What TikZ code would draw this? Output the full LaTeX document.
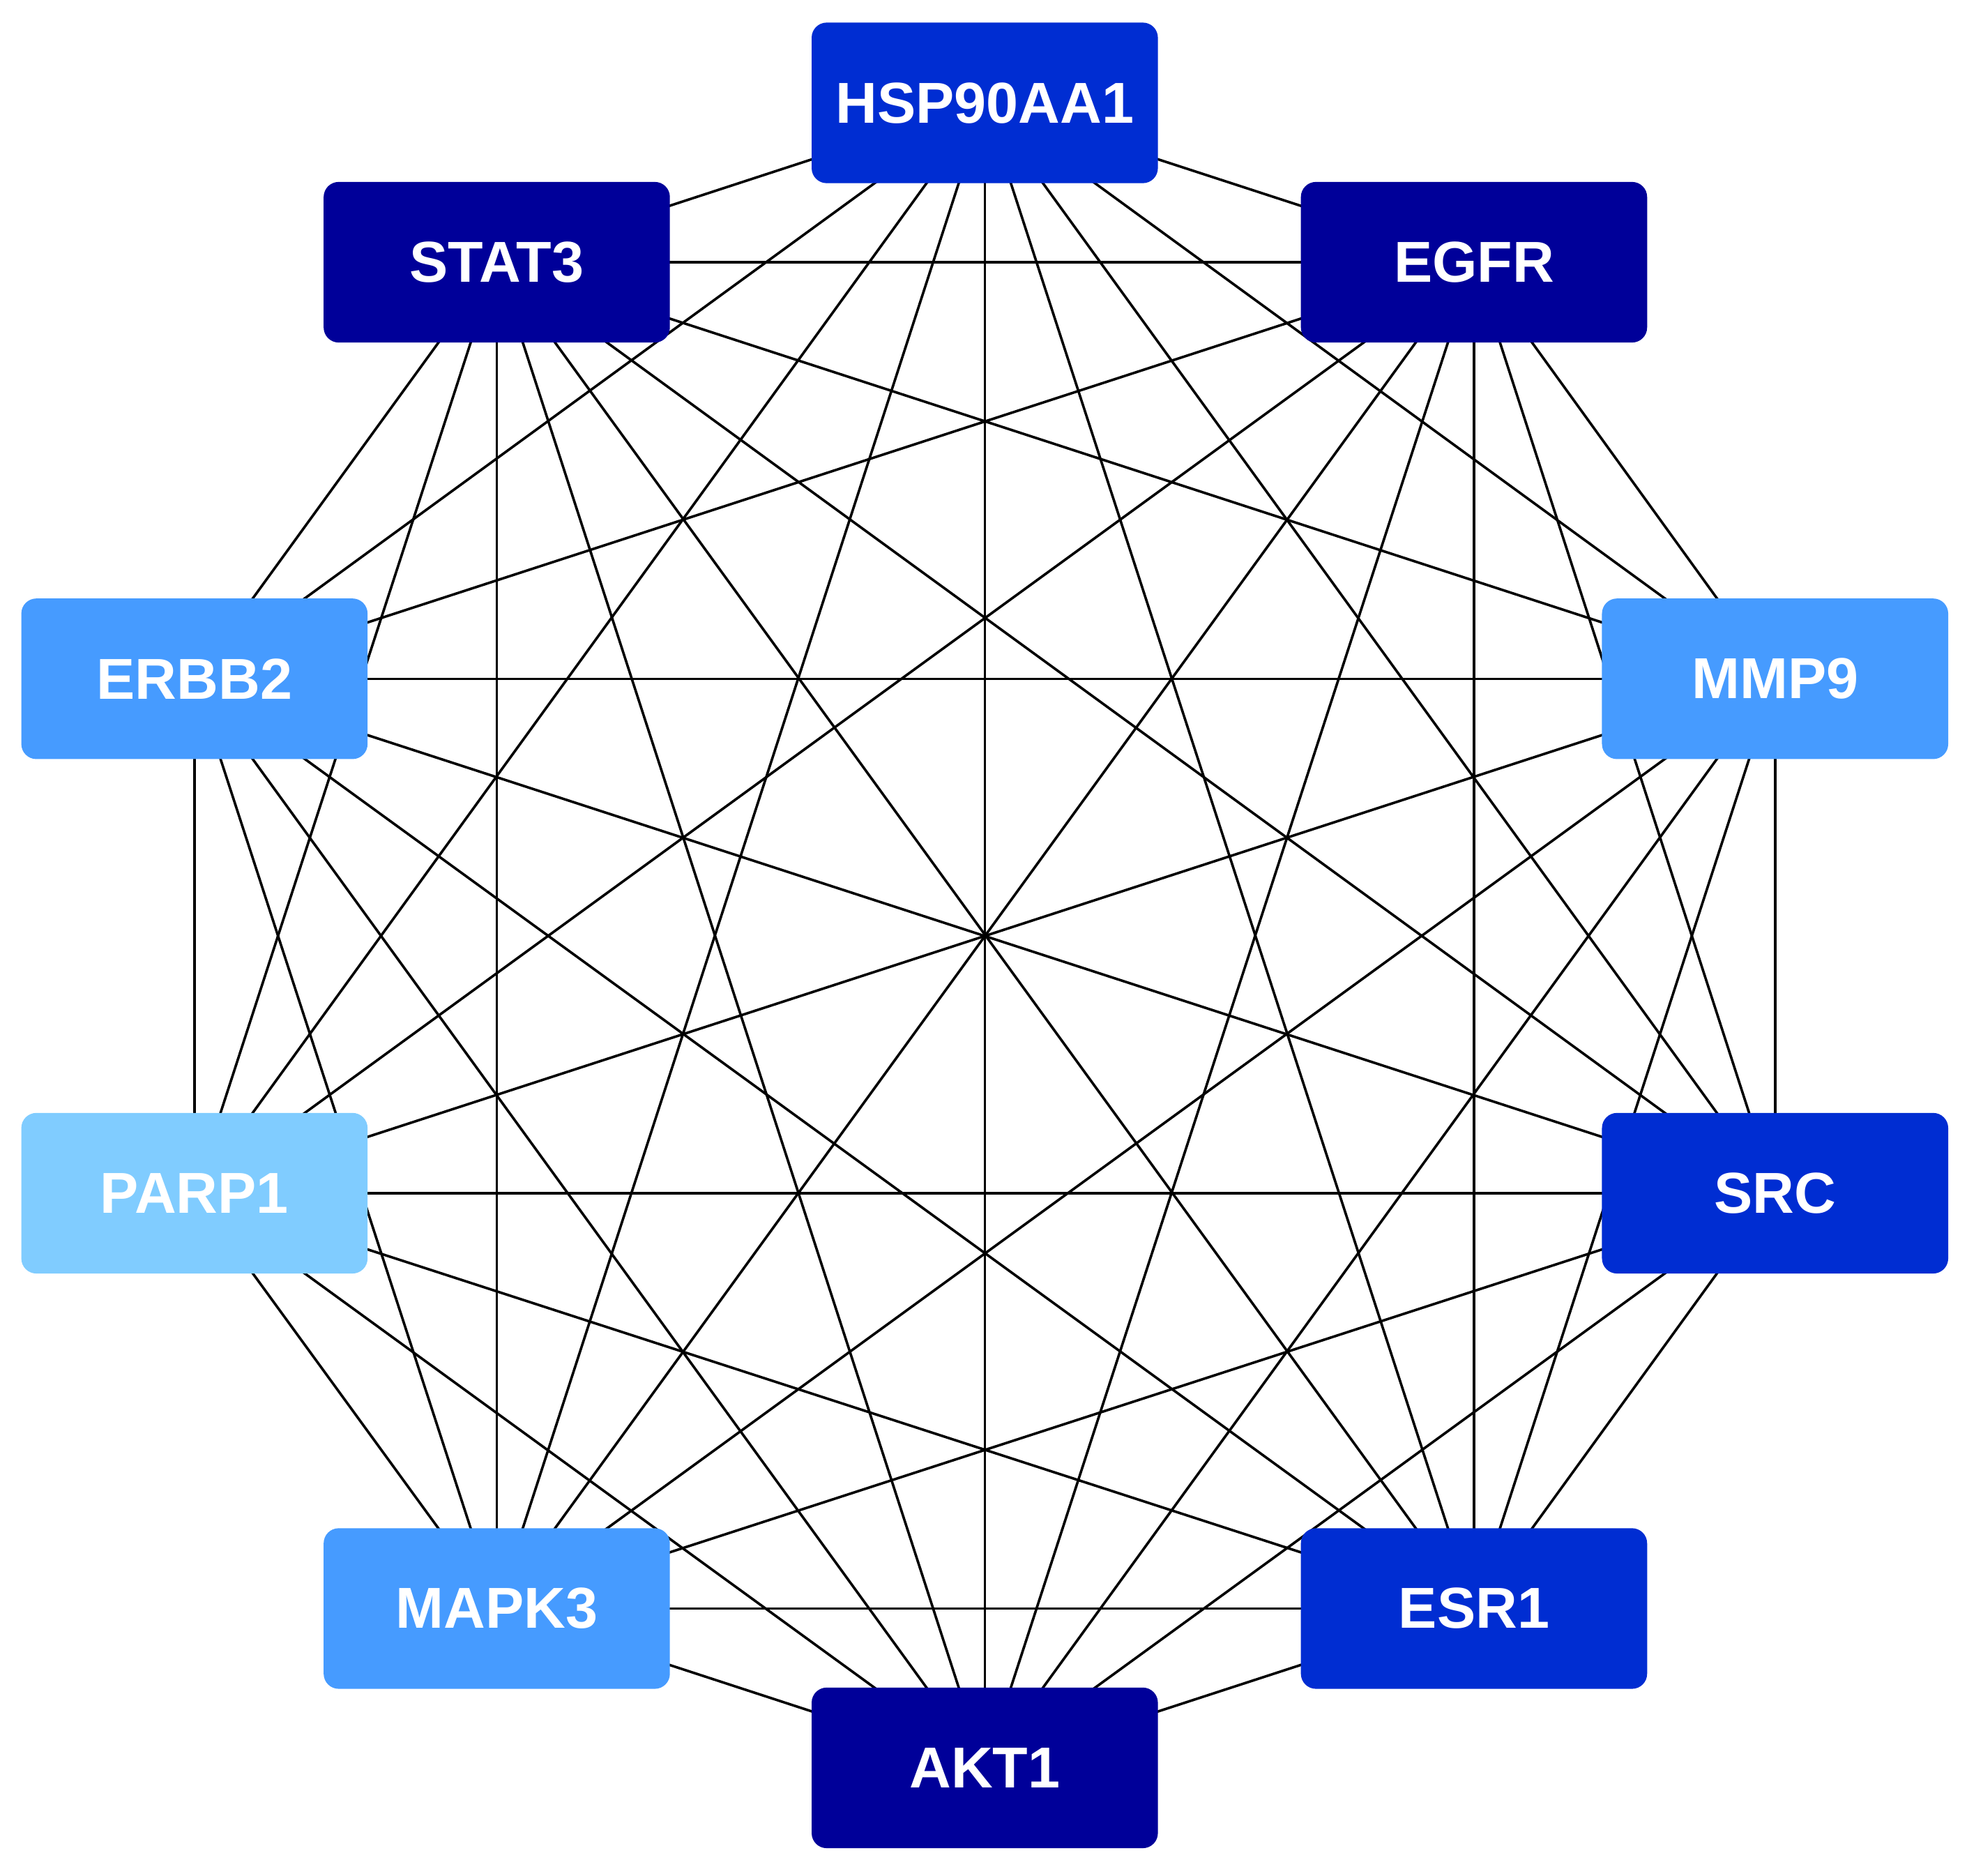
\documentclass[tikz,border=0pt]{standalone}
\usepackage{fontspec}
\setmainfont{Liberation Sans}
\usetikzlibrary{backgrounds}
\definecolor{dk}{RGB}{0,0,153}
\definecolor{md}{RGB}{0,45,210}
\definecolor{lt}{RGB}{70,155,255}
\definecolor{vl}{RGB}{128,204,255}
\begin{document}
\begin{tikzpicture}[x=1pt,y=-1pt,
  gene/.style={rectangle,rounded corners=12pt,minimum width=276pt,minimum height=128pt,text=white,font=\fontsize{46}{50}\selectfont\bfseries,inner sep=0pt},
  edge/.style={line width=2pt,black}]
\useasboundingbox (0,0) rectangle (1568,1495);
\node[gene,fill=md] (n0) at (785,82) {HSP90AA1};
\node[gene,fill=dk] (n1) at (1175,209) {EGFR};
\node[gene,fill=lt] (n2) at (1415,541) {MMP9};
\node[gene,fill=md] (n3) at (1415,951) {SRC};
\node[gene,fill=md] (n4) at (1175,1282) {ESR1};
\node[gene,fill=dk] (n5) at (785,1409) {AKT1};
\node[gene,fill=lt] (n6) at (396,1282) {MAPK3};
\node[gene,fill=vl] (n7) at (155,951) {PARP1};
\node[gene,fill=lt] (n8) at (155,541) {ERBB2};
\node[gene,fill=dk] (n9) at (396,209) {STAT3};
\begin{scope}[on background layer]
\foreach \i in {0,...,8}{
  \pgfmathtruncatemacro{\s}{\i+1}
  \foreach \j in {\s,...,9}{
    \draw[edge] (n\i.center) -- (n\j.center);
  }
}
\end{scope}
\end{tikzpicture}
\end{document}
